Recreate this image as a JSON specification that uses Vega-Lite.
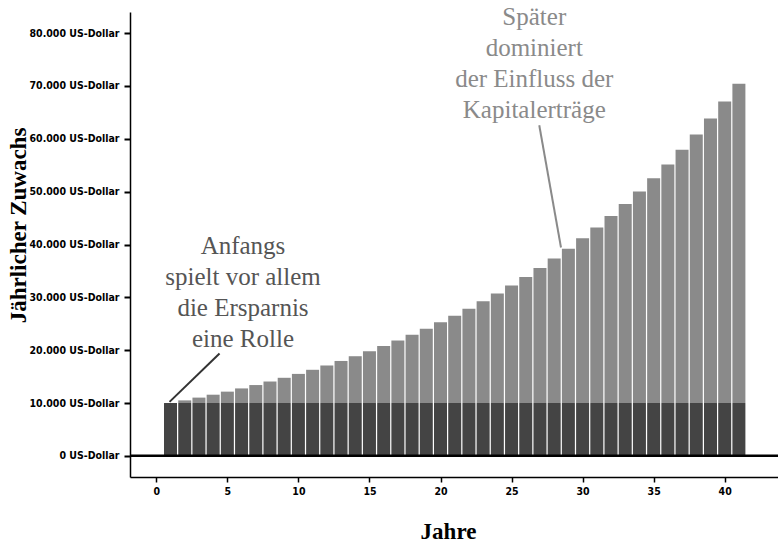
{
  "$schema": "https://vega.github.io/schema/vega-lite/v6.json",
  "width": 648,
  "height": 465,
  "autosize": "none",
  "padding": {"left": 130, "top": 12, "right": 0, "bottom": 68},
  "background": "white",
  "config": {"view": {"stroke": null}},
  "datasets": {
    "zuwachs": [
      {"Jahr": 1, "Komponente": "Ersparnis", "Betrag": 10000}, {"Jahr": 1, "Komponente": "Kapitalertrag", "Betrag": 0},
      {"Jahr": 2, "Komponente": "Ersparnis", "Betrag": 10000}, {"Jahr": 2, "Komponente": "Kapitalertrag", "Betrag": 500},
      {"Jahr": 3, "Komponente": "Ersparnis", "Betrag": 10000}, {"Jahr": 3, "Komponente": "Kapitalertrag", "Betrag": 1025},
      {"Jahr": 4, "Komponente": "Ersparnis", "Betrag": 10000}, {"Jahr": 4, "Komponente": "Kapitalertrag", "Betrag": 1576},
      {"Jahr": 5, "Komponente": "Ersparnis", "Betrag": 10000}, {"Jahr": 5, "Komponente": "Kapitalertrag", "Betrag": 2155},
      {"Jahr": 6, "Komponente": "Ersparnis", "Betrag": 10000}, {"Jahr": 6, "Komponente": "Kapitalertrag", "Betrag": 2763},
      {"Jahr": 7, "Komponente": "Ersparnis", "Betrag": 10000}, {"Jahr": 7, "Komponente": "Kapitalertrag", "Betrag": 3401},
      {"Jahr": 8, "Komponente": "Ersparnis", "Betrag": 10000}, {"Jahr": 8, "Komponente": "Kapitalertrag", "Betrag": 4071},
      {"Jahr": 9, "Komponente": "Ersparnis", "Betrag": 10000}, {"Jahr": 9, "Komponente": "Kapitalertrag", "Betrag": 4775},
      {"Jahr": 10, "Komponente": "Ersparnis", "Betrag": 10000}, {"Jahr": 10, "Komponente": "Kapitalertrag", "Betrag": 5513},
      {"Jahr": 11, "Komponente": "Ersparnis", "Betrag": 10000}, {"Jahr": 11, "Komponente": "Kapitalertrag", "Betrag": 6289},
      {"Jahr": 12, "Komponente": "Ersparnis", "Betrag": 10000}, {"Jahr": 12, "Komponente": "Kapitalertrag", "Betrag": 7103},
      {"Jahr": 13, "Komponente": "Ersparnis", "Betrag": 10000}, {"Jahr": 13, "Komponente": "Kapitalertrag", "Betrag": 7959},
      {"Jahr": 14, "Komponente": "Ersparnis", "Betrag": 10000}, {"Jahr": 14, "Komponente": "Kapitalertrag", "Betrag": 8856},
      {"Jahr": 15, "Komponente": "Ersparnis", "Betrag": 10000}, {"Jahr": 15, "Komponente": "Kapitalertrag", "Betrag": 9799},
      {"Jahr": 16, "Komponente": "Ersparnis", "Betrag": 10000}, {"Jahr": 16, "Komponente": "Kapitalertrag", "Betrag": 10789},
      {"Jahr": 17, "Komponente": "Ersparnis", "Betrag": 10000}, {"Jahr": 17, "Komponente": "Kapitalertrag", "Betrag": 11829},
      {"Jahr": 18, "Komponente": "Ersparnis", "Betrag": 10000}, {"Jahr": 18, "Komponente": "Kapitalertrag", "Betrag": 12920},
      {"Jahr": 19, "Komponente": "Ersparnis", "Betrag": 10000}, {"Jahr": 19, "Komponente": "Kapitalertrag", "Betrag": 14066},
      {"Jahr": 20, "Komponente": "Ersparnis", "Betrag": 10000}, {"Jahr": 20, "Komponente": "Kapitalertrag", "Betrag": 15270},
      {"Jahr": 21, "Komponente": "Ersparnis", "Betrag": 10000}, {"Jahr": 21, "Komponente": "Kapitalertrag", "Betrag": 16533},
      {"Jahr": 22, "Komponente": "Ersparnis", "Betrag": 10000}, {"Jahr": 22, "Komponente": "Kapitalertrag", "Betrag": 17860},
      {"Jahr": 23, "Komponente": "Ersparnis", "Betrag": 10000}, {"Jahr": 23, "Komponente": "Kapitalertrag", "Betrag": 19253},
      {"Jahr": 24, "Komponente": "Ersparnis", "Betrag": 10000}, {"Jahr": 24, "Komponente": "Kapitalertrag", "Betrag": 20715},
      {"Jahr": 25, "Komponente": "Ersparnis", "Betrag": 10000}, {"Jahr": 25, "Komponente": "Kapitalertrag", "Betrag": 22251},
      {"Jahr": 26, "Komponente": "Ersparnis", "Betrag": 10000}, {"Jahr": 26, "Komponente": "Kapitalertrag", "Betrag": 23864},
      {"Jahr": 27, "Komponente": "Ersparnis", "Betrag": 10000}, {"Jahr": 27, "Komponente": "Kapitalertrag", "Betrag": 25557},
      {"Jahr": 28, "Komponente": "Ersparnis", "Betrag": 10000}, {"Jahr": 28, "Komponente": "Kapitalertrag", "Betrag": 27335},
      {"Jahr": 29, "Komponente": "Ersparnis", "Betrag": 10000}, {"Jahr": 29, "Komponente": "Kapitalertrag", "Betrag": 29201},
      {"Jahr": 30, "Komponente": "Ersparnis", "Betrag": 10000}, {"Jahr": 30, "Komponente": "Kapitalertrag", "Betrag": 31161},
      {"Jahr": 31, "Komponente": "Ersparnis", "Betrag": 10000}, {"Jahr": 31, "Komponente": "Kapitalertrag", "Betrag": 33219},
      {"Jahr": 32, "Komponente": "Ersparnis", "Betrag": 10000}, {"Jahr": 32, "Komponente": "Kapitalertrag", "Betrag": 35380},
      {"Jahr": 33, "Komponente": "Ersparnis", "Betrag": 10000}, {"Jahr": 33, "Komponente": "Kapitalertrag", "Betrag": 37649},
      {"Jahr": 34, "Komponente": "Ersparnis", "Betrag": 10000}, {"Jahr": 34, "Komponente": "Kapitalertrag", "Betrag": 40032},
      {"Jahr": 35, "Komponente": "Ersparnis", "Betrag": 10000}, {"Jahr": 35, "Komponente": "Kapitalertrag", "Betrag": 42533},
      {"Jahr": 36, "Komponente": "Ersparnis", "Betrag": 10000}, {"Jahr": 36, "Komponente": "Kapitalertrag", "Betrag": 45160},
      {"Jahr": 37, "Komponente": "Ersparnis", "Betrag": 10000}, {"Jahr": 37, "Komponente": "Kapitalertrag", "Betrag": 47918},
      {"Jahr": 38, "Komponente": "Ersparnis", "Betrag": 10000}, {"Jahr": 38, "Komponente": "Kapitalertrag", "Betrag": 50814},
      {"Jahr": 39, "Komponente": "Ersparnis", "Betrag": 10000}, {"Jahr": 39, "Komponente": "Kapitalertrag", "Betrag": 53855},
      {"Jahr": 40, "Komponente": "Ersparnis", "Betrag": 10000}, {"Jahr": 40, "Komponente": "Kapitalertrag", "Betrag": 57048},
      {"Jahr": 41, "Komponente": "Ersparnis", "Betrag": 10000}, {"Jahr": 41, "Komponente": "Kapitalertrag", "Betrag": 60400}
    ],
    "hinweise": [
      {"text": "Anfangs\nspielt vor allem\ndie Ersparnis\neine Rolle", "x": 6.1, "y": 38160, "gruppe": "früh"},
      {"text": "Später\ndominiert\nder Einfluss der\nKapitalerträge", "x": 26.6, "y": 81480, "gruppe": "spät"}
    ],
    "linien": [
      {"x": 0.93, "y": 10215, "x2": 4.45, "y2": 19372, "gruppe": "früh"},
      {"x": 26.95, "y": 62560, "x2": 28.48, "y2": 39425, "gruppe": "spät"}
    ],
    "null": [{"wert": 0}]
  },
  "resolve": {"scale": {"color": "independent"}},
  "layer": [
    {
      "data": {"name": "zuwachs"},
      "mark": {"type": "bar", "size": 13},
      "encoding": {
        "x": {
          "field": "Jahr", "type": "quantitative",
          "scale": {"domain": [-1.5, 43.4], "nice": false, "zero": false},
          "axis": {
            "values": [0, 5, 10, 15, 20, 25, 30, 35, 40],
            "title": "Jahre",
            "grid": false,
            "domainColor": "black", "domainWidth": 1.5,
            "tickColor": "black", "tickWidth": 1.5, "tickSize": 5,
            "labelFont": "DejaVu Sans Condensed", "labelFontSize": 10.5, "labelFontWeight": "bold", "labelColor": "black",
            "labelPadding": 4, "labelFlush": false,
            "titleFont": "Liberation Serif", "titleFontSize": 23, "titleFontWeight": "bold", "titleColor": "black",
            "titleX": 318, "titleY": 54, "titleAlign": "center", "titleBaseline": "middle"
          }
        },
        "y": {
          "field": "Betrag", "type": "quantitative", "stack": "zero",
          "scale": {"domain": [-4000, 84000], "nice": false, "zero": false},
          "axis": {
            "values": [0, 10000, 20000, 30000, 40000, 50000, 60000, 70000, 80000],
            "labelExpr": "replace(format(datum.value, ','), ',', '.') + ' US-Dollar'",
            "title": "Jährlicher Zuwachs",
            "grid": false,
            "domainColor": "black", "domainWidth": 1.5,
            "tickColor": "black", "tickWidth": 2, "tickSize": 6,
            "labelFont": "DejaVu Sans Condensed", "labelFontSize": 10.5, "labelFontWeight": "bold", "labelColor": "black",
            "labelPadding": 5, "labelOverlap": false,
            "titleFont": "Liberation Serif", "titleFontSize": 23, "titleFontWeight": "bold", "titleColor": "black",
            "titleX": -112, "titleY": 213, "titleAngle": -90, "titleAlign": "center", "titleBaseline": "middle"
          }
        },
        "color": {
          "field": "Komponente", "type": "nominal",
          "scale": {"domain": ["Ersparnis", "Kapitalertrag"], "range": ["#444444", "#8a8a8a"]},
          "legend": null
        },
        "order": {"field": "Komponente", "sort": "ascending"}
      }
    },
    {
      "data": {"name": "null"},
      "mark": {"type": "rule", "color": "black", "strokeWidth": 2.5},
      "encoding": {
        "y": {"field": "wert", "type": "quantitative", "scale": {"domain": [-4000, 84000], "nice": false, "zero": false}}
      }
    },
    {
      "data": {"name": "linien"},
      "mark": {"type": "rule", "strokeWidth": 2},
      "encoding": {
        "x": {"field": "x", "type": "quantitative", "scale": {"domain": [-1.5, 43.4], "nice": false, "zero": false}},
        "x2": {"field": "x2"},
        "y": {"field": "y", "type": "quantitative", "scale": {"domain": [-4000, 84000], "nice": false, "zero": false}},
        "y2": {"field": "y2"},
        "color": {"field": "gruppe", "type": "nominal", "scale": {"domain": ["früh", "spät"], "range": ["#333333", "#8a8a8a"]}, "legend": null}
      }
    },
    {
      "data": {"name": "hinweise"},
      "mark": {"type": "text", "font": "Liberation Serif", "fontSize": 25, "align": "center", "baseline": "alphabetic", "lineBreak": "\n", "lineHeight": 31},
      "encoding": {
        "x": {"field": "x", "type": "quantitative", "scale": {"domain": [-1.5, 43.4], "nice": false, "zero": false}},
        "y": {"field": "y", "type": "quantitative", "scale": {"domain": [-4000, 84000], "nice": false, "zero": false}},
        "text": {"field": "text"},
        "color": {"field": "gruppe", "type": "nominal", "scale": {"domain": ["früh", "spät"], "range": ["#555555", "#8a8a8a"]}, "legend": null}
      }
    }
  ]
}
